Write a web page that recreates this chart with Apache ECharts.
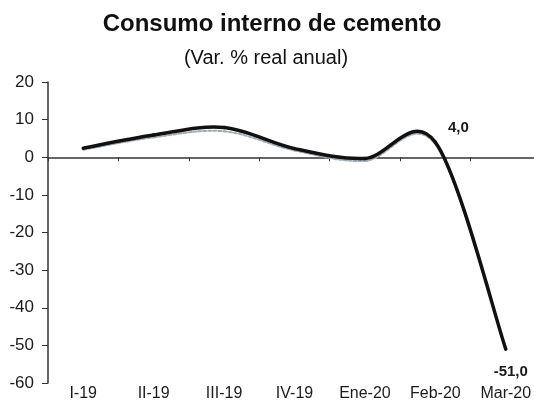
<!DOCTYPE html>
<html>
<head>
<meta charset="utf-8">
<script src="https://cdn.jsdelivr.net/npm/echarts@6/dist/echarts.min.js"></script>
<style>
    html, body { margin: 0; padding: 0; background: #fff; }
    #chart { width: 534px; height: 409px; }
</style>
</head>
<body>
<div id="chart"></div>
<script>
// 数据
var categories = ['I-19', 'II-19', 'III-19', 'IV-19', 'Ene-20', 'Feb-20', 'Mar-20'];
var consumo = [2.4, 5.9, 7.9, 2.3, -0.3, 4.0, -51.0];
var sombra = [2.0, 5.3, 6.9, 1.8, -1.0, 3.4, -51.0];
var etiquetas = ['', '', '', '', '', '4,0', '-51,0'];
var yTicks = { min: -60, max: 20, interval: 10 };

var font = 'Liberation Sans, Arial, sans-serif';

/**
 * 平滑曲线 (Excel 风格), 每个点画到下一个点的一段
 */
var smoothSegment = function (values, color, width, dash, showLabel) {
    return function (params, api) {
        var i = params.dataIndex, n = values.length, children = [];
        var pt = function (k) {
            k = Math.max(0, Math.min(n - 1, k));
            return api.coord([k, values[k]]);
        };
        if (i < n - 1) {
            var p0 = pt(i - 1), p1 = pt(i), p2 = pt(i + 1), p3 = pt(i + 2);
            children.push({
                type: 'bezierCurve',
                shape: {
                    x1: p1[0], y1: p1[1],
                    cpx1: p1[0] + (p2[0] - p0[0]) / 6, cpy1: p1[1] + (p2[1] - p0[1]) / 6,
                    cpx2: p2[0] - (p3[0] - p1[0]) / 6, cpy2: p2[1] - (p3[1] - p1[1]) / 6,
                    x2: p2[0], y2: p2[1]
                },
                style: { stroke: color, lineWidth: width, fill: null, lineDash: dash, lineCap: 'round' }
            });
        }
        if (showLabel && etiquetas[i]) {
            var c = pt(i);
            var off = i === n - 1 ? [5, 23] : [23, -14];
            children.push({
                type: 'text',
                x: c[0] + off[0], y: c[1] + off[1],
                style: {
                    text: etiquetas[i], fill: '#1a1a1a', font: 'bold 15px ' + font,
                    align: 'center', verticalAlign: 'middle'
                }
            });
        }
        return { type: 'group', children: children };
    };
};

var chart = echarts.init(document.getElementById('chart'));
var option = {
    animation: false,
    title: [
        {
            text: 'Consumo interno de cemento',
            left: 267, top: 7, textAlign: 'center',
            textStyle: { fontFamily: font, fontSize: 24, fontWeight: 'bold', color: '#111' }
        },
        {
            text: '(Var. % real anual)',
            left: 261, top: 43, textAlign: 'center',
            textStyle: { fontFamily: font, fontSize: 20, fontWeight: 'normal', color: '#111' }
        }
    ],
    grid: { left: 48, right: -7, top: 82, bottom: 26, outerBoundsMode: 'none' },
    xAxis: [
        {
            type: 'category',
            data: categories,
            boundaryGap: true,
            axisLine: { onZero: true, lineStyle: { color: '#333', width: 1.5 } },
            axisTick: { show: true, length: 4, lineStyle: { color: '#333' } },
            axisLabel: { show: false },
            splitLine: { show: false }
        },
        {
            type: 'category',
            data: categories,
            position: 'bottom',
            boundaryGap: true,
            axisLine: { show: false, onZero: false },
            axisTick: { show: false },
            axisLabel: { margin: 3, fontFamily: font, fontSize: 16, color: '#1a1a1a' },
            splitLine: { show: false }
        }
    ],
    yAxis: {
        type: 'value',
        min: yTicks.min,
        max: yTicks.max,
        interval: yTicks.interval,
        axisLine: { show: true, lineStyle: { color: '#333', width: 1.5 } },
        axisTick: { show: true, length: 6, lineStyle: { color: '#333' } },
        axisLabel: { margin: 14, fontFamily: font, fontSize: 17, color: '#1a1a1a' },
        splitLine: { show: false }
    },
    series: [
        {
            type: 'custom',
            data: sombra.map(function (v, i) { return [i, v]; }),
            encode: { x: 0, y: 1 },
            renderItem: smoothSegment(sombra, '#a3acb5', 2, [3, 2], false),
            z: 1
        },
        {
            type: 'custom',
            data: consumo.map(function (v, i) { return [i, v]; }),
            encode: { x: 0, y: 1 },
            renderItem: smoothSegment(consumo, '#111', 3.5, null, true),
            z: 3
        }
    ]
};
chart.setOption(option);
</script>
</body>
</html>
